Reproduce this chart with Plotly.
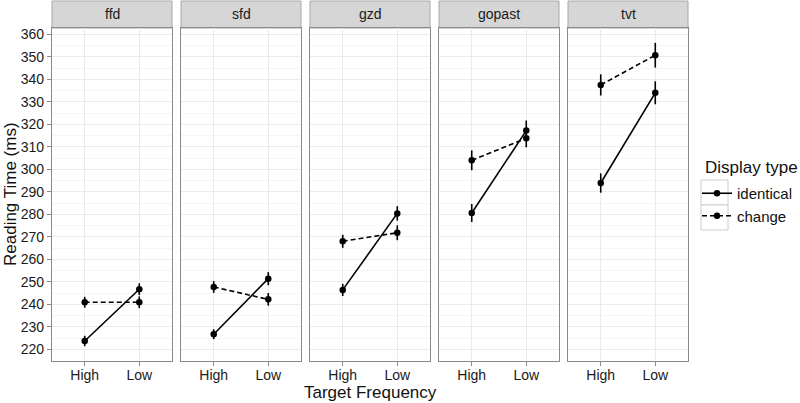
import plotly.graph_objects as go

measures = ["ffd", "sfd", "gzd", "gopast", "tvt"]
freq = ["High", "Low"]
identical_mean = [[223.7, 246.7], [226.7, 251.4], [246.4, 280.4], [280.6, 317.2], [293.9, 334.0]]
identical_err = [[2.3, 2.6], [2.2, 2.9], [2.7, 3.2], [4.0, 4.5], [4.3, 5.1]]
change_mean = [[240.9, 240.9], [247.7, 242.2], [268.0, 271.8], [304.0, 313.8], [337.5, 350.7]]
change_err = [[2.4, 2.6], [2.6, 2.8], [2.9, 3.3], [4.4, 4.0], [4.7, 5.5]]
y_ticks = [220, 230, 240, 250, 260, 270, 280, 290, 300, 310, 320, 330, 340, 350, 360]

W, H = 800, 403
L, R, T, B = 52, 112, 28, 42
pw = W - L - R
ph = H - T - B
panel_w = 120
panel_gap = 9

font_family = "Liberation Sans, Arial, sans-serif"
border = "#8a8a8a"
fig = go.Figure()


def px_x(p):
    return (p - L) / pw


def px_y(p):
    return (H - B - p) / ph


for i, m in enumerate(measures):
    ax = "" if i == 0 else str(i + 1)
    fig.add_trace(go.Scatter(
        x=freq, y=identical_mean[i], xaxis="x" + ax, yaxis="y" + ax,
        mode="lines+markers", name="identical", legendgroup="identical",
        showlegend=(i == 0),
        line=dict(color="black", width=1.6),
        marker=dict(color="black", size=6.5),
        error_y=dict(type="data", array=identical_err[i], color="black", thickness=1.6, width=0),
    ))
    fig.add_trace(go.Scatter(
        x=freq, y=change_mean[i], xaxis="x" + ax, yaxis="y" + ax,
        mode="lines+markers", name="change", legendgroup="change",
        showlegend=(i == 0),
        line=dict(color="black", width=1.6, dash="5px,3px"),
        marker=dict(color="black", size=6.5),
        error_y=dict(type="data", array=change_err[i], color="black", thickness=1.6, width=0),
    ))

layout = dict(
    width=W, height=H,
    margin=dict(l=L, r=R, t=T, b=B, autoexpand=False),
    paper_bgcolor="white", plot_bgcolor="white",
    font=dict(family=font_family, color="#222222"),
    legend=dict(
        x=px_x(697), y=px_y(177), xanchor="left", yanchor="top",
        font=dict(size=15, color="#111"), itemwidth=30,
        bgcolor="rgba(0,0,0,0)", tracegroupgap=0,
    ),
    showlegend=True,
)

shapes = []
annotations = []
for i, m in enumerate(measures):
    ax = "" if i == 0 else str(i + 1)
    x0 = (i * (panel_w + panel_gap)) / pw
    x1 = (i * (panel_w + panel_gap) + panel_w) / pw
    layout["xaxis" + ax] = dict(
        domain=[x0, x1], anchor="y" + ax, type="category",
        range=[-0.6, 1.6], categoryorder="array", categoryarray=freq,
        showgrid=True, gridcolor="#ebebeb", gridwidth=1,
        showline=True, linecolor=border, linewidth=1.3, mirror=True,
        ticks="outside", ticklen=4, tickcolor=border, ticklabelstandoff=-3,
        tickfont=dict(size=14, color="#1a1a1a"), zeroline=False,
    )
    yd = dict(
        domain=[0, 1], anchor="x" + ax, range=[214.8, 362.8],
        tickvals=y_ticks, showgrid=True, gridcolor="#ebebeb", gridwidth=1,
        minor=dict(dtick=5, tick0=215, showgrid=True, gridcolor="#f5f5f5", gridwidth=0.8),
        showline=True, linecolor=border, linewidth=1.3, mirror=True,
        zeroline=False,
    )
    if i == 0:
        yd.update(ticks="outside", ticklen=4, tickcolor=border,
                  tickfont=dict(size=14, color="#1a1a1a"), showticklabels=True)
    else:
        yd.update(matches="y", showticklabels=False, ticks="")
    layout["yaxis" + ax] = yd
    shapes.append(dict(
        type="rect", xref="paper", yref="paper",
        x0=x0, x1=x1, y0=1.0, y1=1 + (T - 1) / ph,
        fillcolor="#d6d6d6", line=dict(color="#a8a8a8", width=1), layer="below",
    ))
    annotations.append(dict(
        text=m, xref="paper", yref="paper", x=(x0 + x1) / 2, y=1 + (T / 2) / ph,
        showarrow=False, font=dict(size=14, color="#1a1a1a"),
        xanchor="center", yanchor="middle",
    ))

# legend key boxes (ggplot theme_bw style)
for top, bot in [(180, 205), (205, 230)]:
    shapes.append(dict(
        type="rect", xref="paper", yref="paper",
        x0=px_x(701), x1=px_x(728), y0=px_y(bot), y1=px_y(top),
        fillcolor="white", line=dict(color="#cccccc", width=1), layer="below",
    ))

annotations.append(dict(
    text="Target Frequency", xref="paper", yref="paper", x=px_x(370), y=px_y(392),
    showarrow=False, font=dict(size=17, color="#111"), xanchor="center", yanchor="middle",
))
annotations.append(dict(
    text="Reading Time (ms)", xref="paper", yref="paper", x=px_x(10), y=px_y(194),
    showarrow=False, font=dict(size=17, color="#111"), textangle=-90,
    xanchor="center", yanchor="middle",
))
annotations.append(dict(
    text="Display type", xref="paper", yref="paper", x=px_x(703), y=px_y(167),
    showarrow=False, font=dict(size=17, color="#111"), xanchor="left", yanchor="middle",
))
layout["shapes"] = shapes
layout["annotations"] = annotations
fig.update_layout(**layout)
fig.write_html("out.html", config={"displayModeBar": False},
               post_script="document.body.style.margin='0px';")
